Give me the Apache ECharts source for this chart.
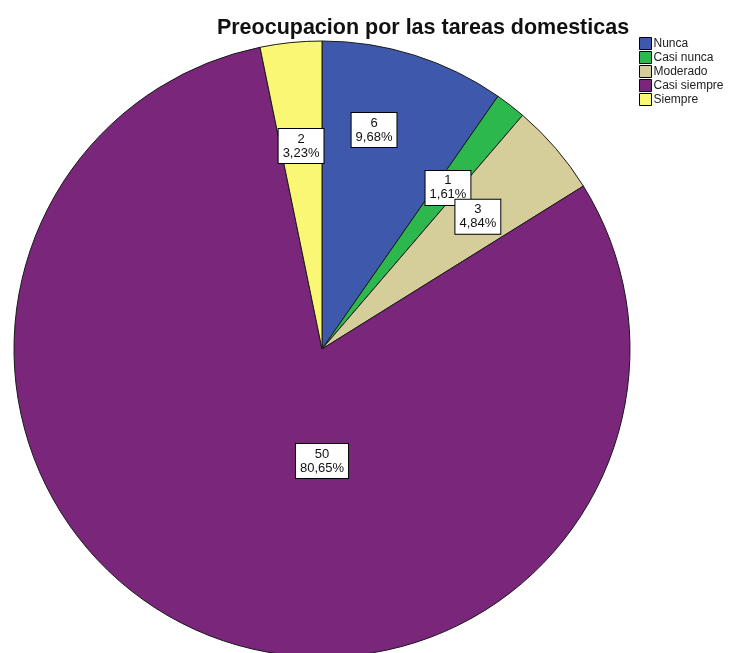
<!DOCTYPE html>
<html>
<head>
<meta charset="utf-8">
<script src="https://cdn.jsdelivr.net/npm/echarts@6/dist/echarts.min.js"></script>
<style>
  html, body { margin: 0; padding: 0; background: #ffffff; }
  #chart { width: 739px; height: 653px; }
</style>
</head>
<body>
<div id="chart"></div>
<script>
// Respuestas: frecuencia de cada categoría
const categories = ['Nunca', 'Casi nunca', 'Moderado', 'Casi siempre', 'Siempre'];
const counts = [6, 1, 3, 50, 2];
const colors = ['#3e58ac', '#2db84d', '#d5ce9a', '#7a267b', '#faf775'];

const total = counts.reduce((a, b) => a + b, 0);
const pct = v => (v / total * 100).toFixed(2).replace('.', ',') + '%';

// Pie geometry
const CX = 322, CY = 349, R = 308;
// Label centres, as offsets from the pie centre in units of the radius
const labelPlace = [
  [0.169, -0.711],
  [0.409, -0.523],
  [0.506, -0.429],
  [0.000, 0.364],
  [-0.068, -0.659]
];

const chart = echarts.init(document.getElementById('chart'), null, { renderer: 'canvas' });
chart.setOption({
  animation: false,
  backgroundColor: '#ffffff',
  title: {
    text: 'Preocupacion por las tareas domesticas',
    left: 418,
    textAlign: 'center',
    top: 12,
    textStyle: { fontFamily: 'Liberation Sans, Arial, sans-serif', fontSize: 21.5, fontWeight: 'bold', color: '#111' }
  },
  legend: {
    orient: 'vertical',
    left: 634,
    top: 32,
    itemWidth: 12,
    itemHeight: 12,
    itemGap: 1,
    icon: 'rect',
    data: categories,
    textStyle: { fontFamily: 'Liberation Sans, Arial, sans-serif', fontSize: 12, color: '#222', padding: [0, 0, 0, -3] },
    itemStyle: { borderColor: '#000', borderWidth: 1 }
  },
  series: [{
    type: 'pie',
    center: [CX, CY],
    radius: R,
    startAngle: 90,
    clockwise: true,
    avoidLabelOverlap: false,
    data: categories.map((name, i) => ({ name, value: counts[i], itemStyle: { color: colors[i] } })),
    itemStyle: { borderColor: '#1a1a1a', borderWidth: 1 },
    label: {
      show: true,
      position: 'inside',
      formatter: p => p.value + '\n' + pct(p.value),
      fontFamily: 'Liberation Sans, Arial, sans-serif',
      fontSize: 13,
      lineHeight: 14,
      color: '#111',
      align: 'center',
      verticalAlign: 'middle',
      backgroundColor: '#ffffff',
      borderColor: '#000',
      borderWidth: 1,
      padding: [3, 4, 3, 4]
    },
    labelLine: { show: false },
    labelLayout: params => {
      const o = labelPlace[params.dataIndex];
      return { x: CX + o[0] * R, y: CY + o[1] * R, align: 'center', verticalAlign: 'middle' };
    },
    emphasis: { disabled: true }
  }]
});
</script>
</body>
</html>
